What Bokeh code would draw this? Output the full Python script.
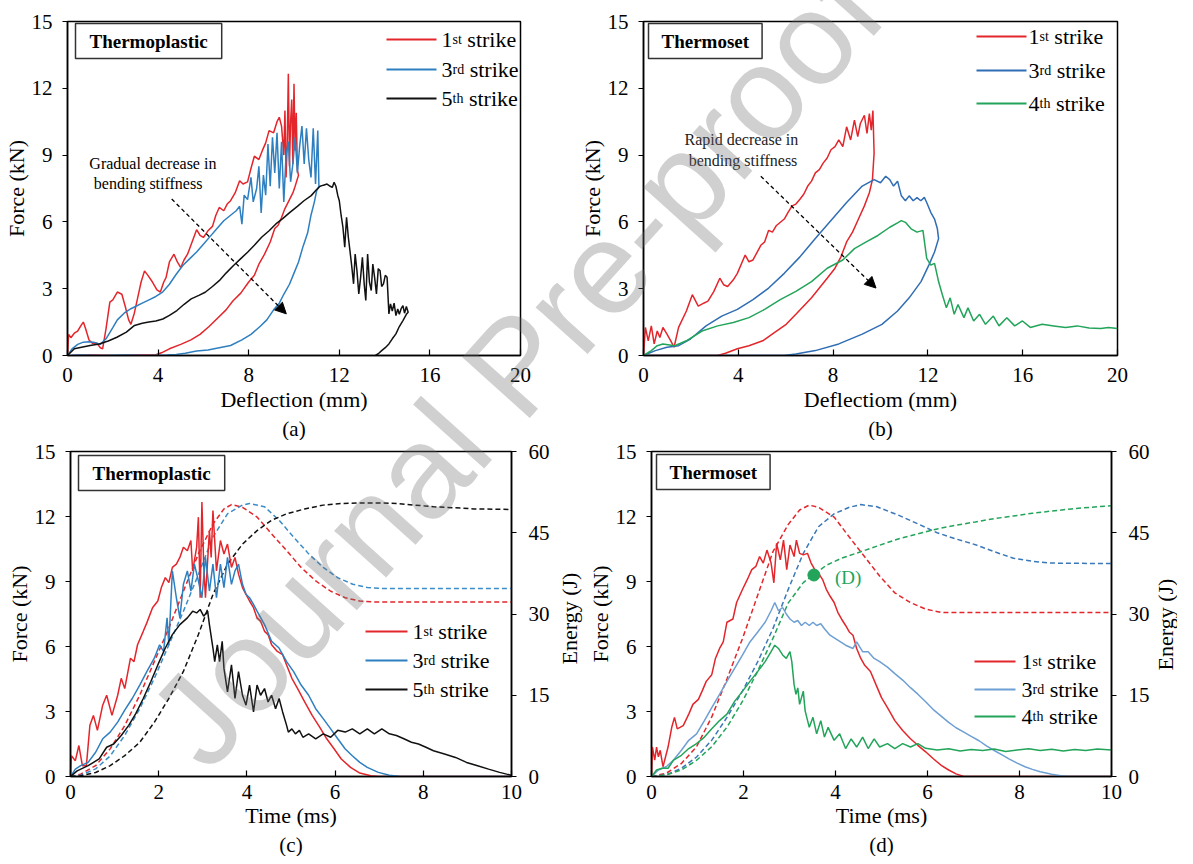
import math
from bokeh.plotting import figure
from bokeh.models import Range1d, FixedTicker, LinearAxis, Label, Arrow, NormalHead, Title, Div
from bokeh.layouts import column, row
from bokeh.embed import file_html
from bokeh.resources import INLINE

# ---------------------------------------------------------------- data
# (a) Thermoplastic, force vs deflection
a_red_d = [0, 0.05, 0.15, 0.3, 0.45, 0.6, 0.7, 0.8, 0.95, 1.1, 1.3, 1.45, 1.55, 1.7, 1.87, 2.0, 2.2, 2.4, 2.55, 2.7,
           2.8, 2.95, 3.1, 3.25, 3.4, 3.55, 3.75, 3.95, 4.1, 4.25, 4.35, 4.5, 4.7, 4.85, 5.0, 5.15, 5.3, 5.5, 5.7, 5.85,
           6.0, 6.2, 6.4, 6.55, 6.7, 6.9, 7.05, 7.2, 7.4, 7.6, 7.75, 7.95, 8.1, 8.25, 8.45, 8.6, 8.75, 8.9, 9.1, 9.25,
           9.35, 9.45, 9.55, 9.6, 9.65, 9.7, 9.75, 9.8, 9.85, 9.9, 9.95, 10.0, 10.05, 10.1, 10.15, 10.2,
           10.05, 9.95, 9.8, 9.6, 9.45, 9.3, 9.15, 8.95, 8.7, 8.45, 8.25, 8.0, 7.65, 7.3, 7.0, 6.6, 6.25, 5.85, 5.45,
           5.0, 4.5, 4.15, 3.9, 3.0, 2.0, 1.0, 0.2]
a_red_f = [0, 0.95, 0.8, 1.0, 1.1, 1.35, 1.5, 1.2, 0.7, 0.55, 0.55, 0.35, 0.3, 1.2, 2.4, 2.5, 2.85, 2.75, 2.2, 1.6,
           1.4, 1.9, 2.6, 3.3, 3.8, 3.6, 3.3, 2.95, 2.85, 3.3, 3.5, 4.2, 4.55, 4.2, 3.95, 4.3, 4.55, 5.1, 5.65, 5.4,
           5.3, 5.6, 5.8, 6.3, 6.65, 6.5, 6.8, 6.95, 7.3, 7.85, 7.7, 7.8, 8.4, 8.95, 8.8, 9.2, 9.55, 10.1, 10.0, 10.5,
           10.7, 10.3, 9.0, 11.0, 8.0, 9.5, 12.65, 8.5, 10.5, 11.5, 8.6, 12.2, 9.2, 10.9, 8.3, 8.1,
           7.6, 7.3, 7.0, 6.6, 6.2, 5.85, 5.7, 5.1, 4.55, 4.1, 3.6, 3.3, 2.8, 2.45, 2.05, 1.65, 1.3, 0.95, 0.7,
           0.5, 0.3, 0.12, 0.03, 0.02, 0.0, 0.02, 0.0]
a_blue_d = [0, 0.2, 0.45, 0.7, 0.95, 1.2, 1.45, 1.7, 2.0, 2.2, 2.5, 2.8, 3.0, 3.3, 3.6, 3.9, 4.2, 4.5, 4.8, 5.1,
            5.4, 5.7, 6.0, 6.3, 6.6, 6.9, 7.2, 7.45, 7.6, 7.7, 7.8, 7.95, 8.1, 8.2, 8.35, 8.45, 8.55, 8.65, 8.75, 8.85,
            8.95, 9.05, 9.15, 9.25, 9.35, 9.45, 9.55, 9.65, 9.75, 9.85, 9.95, 10.05, 10.15, 10.25, 10.35, 10.45, 10.55,
            10.65, 10.75, 10.85, 10.95, 11.05, 11.1,
            11.0, 10.9, 10.75, 10.6, 10.4, 10.2, 10.0, 9.8, 9.55, 9.35, 9.1, 8.8, 8.5, 8.1, 7.7, 7.2, 6.7, 6.2, 5.7,
            5.2, 4.8, 4.4, 3.5, 2.5, 1.5, 0.5, 0.1]
a_blue_f = [0, 0.3, 0.5, 0.6, 0.62, 0.58, 0.5, 0.75, 1.25, 1.6, 1.9, 2.1, 2.2, 2.35, 2.5, 2.65, 2.85, 3.2, 3.65, 4.05,
            4.35, 4.65, 5.0, 5.35, 5.7, 6.05, 6.3, 6.5, 6.7, 5.9, 7.2, 7.0, 8.0, 6.9, 7.5, 8.5, 6.4, 8.1, 7.2, 9.5,
            7.6, 9.8, 8.2, 10.0, 7.5, 9.6, 6.9, 9.0, 9.6, 7.8, 8.6, 9.8, 8.2, 9.4, 10.3, 8.6, 10.2,
            8.8, 8.0, 10.2, 7.7, 10.1, 7.6,
            7.4, 6.9, 6.3, 5.5, 4.9, 4.2, 3.7, 3.2, 2.75, 2.35, 2.05, 1.6, 1.3, 0.95, 0.7, 0.45, 0.35, 0.25, 0.2,
            0.1, 0.05, 0.02, 0.0, 0.02, 0.0, 0.02, 0.0]
a_black_d = [0, 0.3, 0.62, 1.0, 1.4, 1.8, 2.18, 2.6, 2.96, 3.3, 3.59, 3.9, 4.21, 4.5, 4.83, 5.15, 5.46, 5.8, 6.08, 6.4,
             6.7, 7.0, 7.33, 7.65, 7.95, 8.25, 8.57, 8.9, 9.2, 9.5, 9.82, 10.15, 10.44, 10.76, 11.0, 11.15, 11.3, 11.46,
             11.6, 11.69, 11.77, 11.85, 11.93, 12.0, 12.08, 12.16, 12.24, 12.32, 12.4, 12.47, 12.55, 12.63, 12.7, 12.78,
             12.86, 12.94, 13.02, 13.1, 13.17, 13.25, 13.33, 13.41, 13.48, 13.56, 13.64, 13.72, 13.8, 13.87, 13.95,
             14.03, 14.11, 14.19, 14.26, 14.34, 14.42, 14.5, 14.58, 14.65, 14.73, 14.81, 14.88, 14.96, 15.04,
             14.96, 14.81, 14.65, 14.5, 14.34, 14.19, 14.03, 13.87, 13.72, 13.6]
a_black_f = [0, 0.3, 0.37, 0.45, 0.52, 0.65, 0.82, 1.05, 1.35, 1.45, 1.5, 1.55, 1.64, 1.8, 2.02, 2.3, 2.54, 2.7, 2.84,
             3.1, 3.36, 3.7, 4.04, 4.35, 4.64, 4.95, 5.31, 5.6, 5.91, 6.15, 6.43, 6.7, 6.95, 7.18, 7.45, 7.6, 7.65, 7.7,
             7.6, 7.55, 7.78, 7.6, 7.2, 6.95, 6.3, 5.76, 4.86, 6.21, 5.3, 4.71, 4.0, 3.22, 4.56, 3.8, 2.77, 3.5, 4.41,
             3.2, 2.47, 4.56, 3.3, 2.92, 4.11, 3.5, 2.77, 3.9, 3.81, 3.1, 3.22, 3.6, 3.51, 1.87, 2.32, 2.0, 2.35, 1.79,
             2.09, 1.85, 2.1, 2.24, 1.9, 2.2, 1.94,
             1.85, 1.57, 1.3, 0.97, 0.75, 0.52, 0.35, 0.22, 0.08, 0.0]

# (b) Thermoset, force vs deflection
b_red_d = [0, 0.08, 0.2, 0.33, 0.45, 0.58, 0.69, 0.82, 0.99, 1.15, 1.29, 1.48, 1.81, 2.06, 2.31, 2.56, 2.72, 2.97,
           3.22, 3.38, 3.55, 3.79, 3.96, 4.29, 4.45, 4.62, 4.95, 5.11, 5.28, 5.44, 5.61, 5.94, 6.1, 6.27, 6.43, 6.6,
           6.76, 6.93, 7.09, 7.25, 7.42, 7.58, 7.75, 7.91, 8.08, 8.24, 8.41, 8.57, 8.74, 8.9, 9.04, 9.15, 9.32, 9.43,
           9.53, 9.61, 9.68, 9.73,
           9.66, 9.53, 9.32, 9.07, 8.82, 8.57, 8.33, 8.08, 7.75, 7.42, 7.09, 6.76, 6.43, 6.02, 5.52, 5.03, 4.45, 3.96,
           3.46, 3.13, 0.2]
b_red_f = [0, 1.26, 0.66, 1.33, 0.52, 1.1, 0.81, 1.26, 0.96, 0.66, 0.37, 1.26, 2.0, 2.73, 2.22, 2.36, 2.44, 2.88,
           3.47, 3.18, 3.1, 3.4, 3.69, 4.51, 4.21, 4.29, 4.95, 5.1, 5.62, 5.54, 5.84, 6.13, 6.43, 6.72, 6.8, 7.02,
           7.24, 7.61, 7.83, 8.2, 8.35, 8.64, 8.87, 9.24, 9.38, 9.68, 9.38, 10.27, 9.68, 10.57, 9.83, 10.42, 10.79,
           9.97, 10.86, 10.12, 11.0, 9.09,
           7.9, 7.31, 6.72, 6.13, 5.54, 5.1, 4.43, 3.92, 3.47, 3.03, 2.59, 2.22, 1.85, 1.4, 1.03, 0.66, 0.44, 0.3,
           0.1, 0.0, 0.0]
b_blue_d = [0, 0.5, 0.99, 1.48, 1.98, 2.64, 3.3, 3.96, 4.62, 5.28, 5.94, 6.6, 7.25, 7.91, 8.57, 9.23, 9.73, 10.0,
            10.22, 10.39, 10.55, 10.72, 10.88, 11.05, 11.21, 11.38, 11.54, 11.7, 11.85, 11.95, 12.12, 12.28, 12.4,
            12.45, 12.28, 12.04, 11.71, 11.21, 10.72, 10.06, 9.23, 8.24, 7.25, 6.43, 5.94, 3.0, 0.2]
b_blue_f = [0, 0.22, 0.37, 0.44, 0.74, 1.33, 1.77, 2.07, 2.51, 3.03, 3.69, 4.43, 5.25, 6.06, 6.87, 7.61, 7.9, 7.76,
            8.05, 7.9, 7.61, 7.83, 7.17, 6.95, 7.17, 6.95, 7.09, 6.95, 7.1, 6.87, 6.43, 6.13, 5.69,
            5.25, 4.65, 4.06, 3.32, 2.59, 2.0, 1.4, 0.96, 0.52, 0.22, 0.07, 0.0, 0.0, 0.0]
b_green_d = [0, 0.33, 0.58, 0.82, 1.32, 1.81, 2.47, 3.13, 3.79, 4.45, 5.11, 5.77, 6.43, 7.09, 7.75, 8.41, 8.9, 9.4,
             9.89, 10.39, 10.72, 10.88, 11.05, 11.29, 11.54, 11.79, 11.95, 12.12, 12.28, 12.45, 12.61, 12.78, 12.94,
             13.11, 13.27, 13.52, 13.69, 13.93, 14.18, 14.43, 14.76, 15.0, 15.33, 15.66, 15.99, 16.32, 16.82, 17.31,
             17.81, 18.3, 18.8, 19.29, 19.62, 20.0]
b_green_f = [0, 0.22, 0.44, 0.52, 0.44, 0.66, 1.1, 1.33, 1.48, 1.7, 2.07, 2.51, 2.88, 3.32, 3.92, 4.29, 4.8, 5.1,
             5.39, 5.76, 5.96, 6.06, 5.98, 5.69, 5.54, 5.62, 4.36, 4.06, 4.14, 3.32, 2.73, 2.14, 2.59,
             1.85, 2.29, 1.7, 2.14, 1.55, 1.85, 1.4, 1.77, 1.33, 1.7, 1.33, 1.55, 1.26, 1.4, 1.33,
             1.26, 1.33, 1.23, 1.21, 1.26, 1.21]

# (c) Thermoplastic, force and energy vs time
c_red_t = [0, 0.02, 0.11, 0.19, 0.27, 0.36, 0.44, 0.52, 0.61, 0.73, 0.82, 0.94, 1.07, 1.15, 1.23, 1.36, 1.44, 1.52,
           1.65, 1.73, 1.86, 1.98, 2.06, 2.15, 2.23, 2.31, 2.4, 2.48, 2.56, 2.65, 2.73, 2.77, 2.86, 2.9, 2.94, 2.98,
           3.02, 3.06, 3.15, 3.19, 3.23, 3.27, 3.31, 3.4, 3.48, 3.56, 3.65, 3.73, 3.81, 3.9, 3.98, 4.06, 4.15, 4.23,
           4.31, 4.4, 4.48, 4.56, 4.69, 4.81, 4.9, 5.02, 5.15, 5.31, 5.48, 5.65, 5.81, 5.98, 6.14, 6.35, 6.56, 6.81,
           6.98, 10]
c_red_f = [0, 0.96, 0.73, 1.43, 0.5, 0.5, 2.36, 2.82, 2.13, 3.29, 3.75, 2.82, 3.75, 4.53, 4.06, 5.46, 5.3, 6.08,
           6.7, 7.09, 7.79, 8.1, 8.72, 9.18, 8.95, 9.65, 9.8, 10.11, 10.58, 10.42, 10.89, 9.49, 10.58, 11.97, 8.25,
           12.67, 9.8, 8.25, 11.35, 10.11, 12.28, 10.89, 9.49, 10.89, 10.27, 10.73, 9.65, 10.11, 9.34, 8.72, 8.41,
           8.1, 7.79, 7.32, 7.17, 6.7, 6.55, 6.08, 5.77, 5.62, 5.15, 4.53, 4.06, 3.44, 2.82, 2.28, 1.74, 1.27, 0.81,
           0.42, 0.16, 0.03, 0, 0]
c_blue_t = [0, 0.11, 0.23, 0.4, 0.57, 0.73, 0.9, 1.07, 1.23, 1.4, 1.57, 1.73, 1.9, 2.02, 2.11, 2.19, 2.23, 2.31, 2.4,
            2.48, 2.56, 2.65, 2.73, 2.81, 2.9, 2.98, 3.06, 3.15, 3.23, 3.31, 3.4, 3.48, 3.56, 3.65, 3.73, 3.81, 3.9,
            3.98, 4.06, 4.15, 4.23, 4.4, 4.56, 4.73, 4.9, 5.06, 5.23, 5.4, 5.56, 5.73, 5.9, 6.06, 6.23, 6.39, 6.56,
            6.73, 6.98, 7.23, 7.48, 10]
c_blue_f = [0, 0.34, 0.5, 0.65, 1.12, 1.74, 2.05, 2.51, 3.06, 3.6, 4.22, 4.84, 5.46, 6.08, 5.77, 7.32, 6.08, 9.49,
            8.25, 7.32, 8.87, 9.49, 8.56, 9.8, 9.03, 8.25, 10.11, 8.56, 9.8, 8.25, 9.8, 8.72, 10.11, 8.87, 9.49, 9.8,
            8.87, 8.41, 8.25, 7.94, 7.63, 7.01, 6.24, 5.93, 5.3, 4.84, 4.22, 3.75, 3.13, 2.67, 2.2, 1.74, 1.27, 0.96,
            0.65, 0.42, 0.19, 0.06, 0, 0]
c_black_t = [0, 0.15, 0.4, 0.65, 0.82, 0.98, 1.15, 1.32, 1.48, 1.65, 1.82, 1.98, 2.15, 2.31, 2.48, 2.65, 2.77, 2.86,
             2.94, 3.02, 3.11, 3.15, 3.23, 3.27, 3.33, 3.38, 3.44, 3.48, 3.56, 3.65, 3.73, 3.81, 3.9, 3.98, 4.06,
             4.15, 4.23, 4.31, 4.4, 4.48, 4.56, 4.65, 4.73, 4.81, 4.9, 4.94, 5.02, 5.1, 5.19, 5.27, 5.4, 5.56, 5.73,
             5.9, 6.06, 6.23, 6.39, 6.56, 6.73, 6.89, 7.06, 7.23, 7.39, 7.56, 7.73, 7.89, 8.06, 8.23, 8.48, 8.73,
             8.98, 9.23, 9.48, 9.73, 9.89, 10]
c_black_f = [0, 0.26, 0.5, 0.81, 1.35, 1.5, 1.89, 2.36, 2.9, 3.6, 4.37, 5.15, 5.93, 6.55, 7.01, 7.32, 7.63, 7.55,
             7.71, 7.4, 7.63, 7.01, 5.93, 5.3, 6.08, 5.3, 6.24, 4.99, 3.91, 5.15, 3.6, 4.84, 3.75, 3.29, 4.22, 2.98,
             4.22, 3.75, 4.06, 3.44, 3.75, 3.13, 3.6, 2.98, 2.36, 2.05, 2.2, 1.97, 2.13, 1.81, 1.97, 1.74, 1.97, 1.81,
             2.13, 2.05, 2.2, 1.97, 2.2, 1.97, 2.2, 1.97, 1.89, 1.74, 1.58, 1.5, 1.35, 1.19, 1.04, 0.88, 0.65, 0.5,
             0.34, 0.19, 0.11, 0.06]
c_red_et = [0, 0.23, 0.57, 0.9, 1.23, 1.57, 1.9, 2.23, 2.56, 2.9, 3.23, 3.48, 3.65, 3.9, 4.23, 4.56, 4.9, 5.23, 5.56,
            5.9, 6.23, 6.56, 6.9, 10]
c_red_e = [0, 0.43, 2.0, 5.1, 9.4, 15.0, 21.2, 27.4, 34.2, 41.1, 46.6, 49.4, 50.2, 49.7, 47.9, 44.8, 41.7, 38.6,
           36.1, 34.2, 33.0, 32.4, 32.2, 32.2]
c_blue_et = [0, 0.23, 0.57, 0.9, 1.23, 1.57, 1.9, 2.23, 2.56, 2.9, 3.23, 3.56, 3.9, 4.06, 4.4, 4.73, 5.06, 5.4, 5.73,
             6.06, 6.4, 6.73, 7.06, 10]
c_blue_e = [0, 0.25, 1.4, 3.8, 7.6, 12.5, 18.1, 24.3, 30.5, 37.3, 44.2, 48.5, 50.1, 50.4, 49.8, 47.3, 44.2, 41.1,
            38.6, 36.7, 35.5, 34.9, 34.7, 34.7]
c_black_et = [0, 0.23, 0.57, 0.9, 1.23, 1.57, 1.9, 2.23, 2.56, 2.9, 3.23, 3.56, 3.9, 4.23, 4.56, 4.9, 5.31, 5.73,
              6.14, 6.56, 6.98, 7.39, 7.81, 8.23, 8.73, 9.15, 10]
c_black_e = [0, 0.12, 0.74, 2.0, 3.85, 6.3, 10.0, 14.4, 19.4, 26.2, 33.6, 39.2, 42.9, 45.4, 47.3, 48.5, 49.4, 50.1,
             50.4, 50.5, 50.5, 50.4, 50.1, 49.8, 49.6, 49.4, 49.3]

# (d) Thermoset, force and energy vs time
d_red_t = [0, 0.02, 0.07, 0.11, 0.15, 0.19, 0.25, 0.36, 0.44, 0.5, 0.56, 0.69, 0.81, 0.9, 1.02, 1.1, 1.19, 1.31, 1.39,
           1.48, 1.56, 1.64, 1.77, 1.85, 1.98, 2.1, 2.18, 2.27, 2.35, 2.43, 2.51, 2.6, 2.66, 2.72, 2.8, 2.87, 2.94,
           3.01, 3.1, 3.15, 3.22, 3.3, 3.39, 3.47, 3.55, 3.63, 3.72, 3.8, 3.88, 3.97, 4.05, 4.13, 4.22, 4.3, 4.38,
           4.46, 4.55, 4.63, 4.76, 4.88, 5.0, 5.13, 5.29, 5.46, 5.63, 5.79, 5.96, 6.12, 6.29, 6.46, 6.62, 6.79, 10]
d_red_f = [0, 1.36, 0.76, 1.36, 0.91, 1.21, 0.45, 1.36, 2.27, 2.73, 2.2, 2.35, 2.88, 3.33, 3.56, 3.94, 4.39, 4.7,
           5.45, 5.91, 6.21, 7.12, 7.27, 8.03, 8.64, 9.17, 9.55, 9.7, 10.15, 9.85, 10.45, 9.85, 8.94, 10.76, 10.0,
           10.91, 9.55, 10.68, 10.15, 10.91, 10.3, 10.23, 10.3, 9.85, 9.55, 9.39, 9.09, 8.64, 8.33, 8.03, 7.58, 7.27,
           6.97, 6.67, 6.52, 5.91, 5.45, 5.15, 4.85, 4.24, 3.64, 3.18, 2.58, 2.12, 1.74, 1.44, 1.14, 0.83, 0.53, 0.3,
           0.12, 0, 0]
d_blue_t = [0, 0.15, 0.32, 0.48, 0.65, 0.81, 0.98, 1.15, 1.31, 1.48, 1.64, 1.81, 1.98, 2.14, 2.31, 2.47, 2.6, 2.68,
            2.76, 2.85, 2.93, 3.01, 3.1, 3.18, 3.26, 3.34, 3.43, 3.51, 3.59, 3.68, 3.76, 3.88, 4.05, 4.22, 4.38, 4.46,
            4.59, 4.71, 4.84, 4.96, 5.13, 5.29, 5.46, 5.63, 5.79, 5.96, 6.12, 6.29, 6.46, 6.62, 6.79, 6.95, 7.12,
            7.29, 7.45, 7.62, 7.78, 7.95, 8.12, 8.28, 8.45, 8.7, 8.9, 9.1, 10]
d_blue_f = [0, 0.3, 0.45, 0.76, 1.21, 1.67, 1.97, 2.58, 3.18, 3.79, 4.39, 5.0, 5.61, 6.21, 6.67, 7.12, 7.65, 8.03,
            7.65, 7.8, 7.5, 7.27, 7.12, 7.2, 6.97, 7.12, 6.97, 7.12, 6.97, 7.05, 6.82, 6.52, 6.29, 6.06, 5.91, 6.21,
            5.76, 5.76, 5.45, 5.3, 5.05, 4.75, 4.45, 4.1, 3.8, 3.45, 3.1, 2.8, 2.5, 2.25, 2.05, 1.85, 1.65, 1.4, 1.2,
            1.0, 0.8, 0.62, 0.45, 0.33, 0.22, 0.1, 0.04, 0, 0]
d_green_t = [0, 0.11, 0.23, 0.36, 0.48, 0.65, 0.81, 0.98, 1.15, 1.31, 1.48, 1.64, 1.81, 1.98, 2.14, 2.31, 2.47, 2.6,
             2.68, 2.76, 2.85, 2.93, 3.01, 3.05, 3.1, 3.14, 3.18, 3.22, 3.3, 3.34, 3.43, 3.51, 3.59, 3.68, 3.76,
             3.84, 3.97, 4.09, 4.22, 4.34, 4.46, 4.59, 4.71, 4.84, 4.96, 5.13, 5.29, 5.46, 5.63, 5.79, 5.96, 6.21,
             6.46, 6.71, 6.95, 7.2, 7.45, 7.7, 7.95, 8.2, 8.45, 8.7, 8.95, 9.2, 9.44, 9.69, 10]
d_green_f = [0, 0.3, 0.38, 0.38, 0.76, 0.98, 1.29, 1.52, 1.82, 2.2, 2.58, 2.88, 3.48, 3.94, 4.39, 4.85, 5.3, 5.76,
             6.06, 5.91, 5.61, 5.45, 5.76, 5.3, 4.24, 3.79, 4.09, 3.33, 3.94, 3.03, 2.27, 2.73, 1.97, 2.58, 1.82,
             2.27, 1.67, 1.97, 1.29, 1.74, 1.36, 1.82, 1.29, 1.74, 1.36, 1.52, 1.29, 1.52, 1.36, 1.52, 1.3, 1.22,
             1.28, 1.18, 1.25, 1.2, 1.27, 1.15, 1.22, 1.28, 1.2, 1.26, 1.18, 1.25, 1.2, 1.27, 1.22]
d_red_et = [0, 0.32, 0.65, 0.98, 1.31, 1.64, 1.98, 2.31, 2.64, 2.97, 3.22, 3.43, 3.63, 3.97, 4.3, 4.63, 4.96, 5.29,
            5.63, 5.96, 6.29, 10]
d_red_e = [0, 0.6, 2.4, 5.5, 11.0, 18.0, 25.5, 33.5, 41.5, 46.5, 49.2, 50.1, 49.7, 47.9, 44.2, 40.6, 37.0, 33.9,
           32.1, 30.9, 30.3, 30.3]
d_blue_et = [0, 0.32, 0.65, 0.98, 1.31, 1.64, 1.98, 2.31, 2.64, 2.97, 3.3, 3.63, 3.97, 4.3, 4.55, 4.9, 5.38, 5.8,
             6.21, 6.6, 7.04, 7.45, 7.87, 8.3, 8.7, 10]
d_blue_e = [0, 0.3, 1.5, 3.6, 6.7, 10.9, 15.8, 21.2, 27.3, 34.5, 41.2, 46.1, 48.5, 49.7, 50.2, 49.8, 48.2, 46.6,
            45.0, 43.9, 42.8, 41.5, 40.3, 39.7, 39.4, 39.3]
d_green_et = [0, 0.32, 0.65, 0.98, 1.31, 1.64, 1.98, 2.31, 2.64, 2.97, 3.3, 3.55, 3.8, 4.13, 4.55, 4.96, 5.38, 5.79,
              6.21, 6.62, 7.04, 7.45, 7.87, 8.28, 8.7, 9.13, 9.54, 10]
d_green_e = [0, 0.3, 1.2, 3.0, 5.5, 9.1, 13.9, 19.5, 25.5, 32.0, 35.8, 37.4, 39.0, 40.3, 41.5, 42.7, 43.9, 44.8,
             45.7, 46.4, 47.0, 47.6, 48.1, 48.6, 49.0, 49.4, 49.7, 50.0]
d_marker_t = [3.53]
d_marker_e = [37.2]
d_marker_label = "(D)"

# ticks and texts
defl_ticks = [0, 4, 8, 12, 16, 20]
time_ticks = [0, 2, 4, 6, 8, 10]
force_ticks = [0, 3, 6, 9, 12, 15]
energy_ticks = [0, 15, 30, 45, 60]
tp_legend = [("1", "st"), ("3", "rd"), ("5", "th")]
ts_legend = [("1", "st"), ("3", "rd"), ("4", "th")]
a_note = ["Gradual decrease in", "bending stiffness"]
b_note = ["Rapid decrease in", "bending stiffness"]
a_arrow = [4.6, 7.03, 9.66, 1.87]
b_arrow = [4.95, 8.05, 9.81, 3.03]
a_note_pos = [(3.77, 8.64), (3.56, 7.73)]
b_note_pos = [(4.13, 9.68), (4.2, 8.75)]
d_label_pos = (3.99, 9.17)
watermark = "Journal Pre-proof"

# ---------------------------------------------------------------- style
SERIF = "Liberation Serif"
SANS = "Liberation Sans"
RED = "#E3262B"
BLUE = "#2E7FC0"
BLUE_B = "#2F6DB4"
BLUE_D = "#6E9FD3"
BLUE_DASH_D = "#3B78B8"
GREEN = "#22A45A"
BLACK = "#111111"
SUPW = {"st": 0.667, "rd": 0.833, "th": 0.778}

# frame geometry in page pixels (rows align their plots' top/bottom borders)
ROW1_TOP, ROW1_BOTTOM = 21, 355
ROW2_TOP, ROW2_BOTTOM = 451, 776
ROW2_PAGE_BOTTOM = 856


def style_axis(ax, label, ticks, tick_in, tick_out, lab_std, axl_std):
    ax.ticker = FixedTicker(ticks=ticks)
    ax.axis_label = label
    ax.axis_label_text_font = SERIF
    ax.axis_label_text_font_size = "22px"
    ax.axis_label_text_font_style = "normal"
    ax.axis_label_text_color = "black"
    ax.axis_label_standoff = axl_std
    ax.major_label_text_font = SERIF
    ax.major_label_text_font_size = "21px"
    ax.major_label_text_color = "black"
    ax.major_label_standoff = lab_std
    ax.major_tick_in = tick_in
    ax.major_tick_out = tick_out
    ax.major_tick_line_color = "black"
    ax.major_tick_line_width = 1.2
    ax.minor_tick_line_color = None
    ax.axis_line_color = "black"
    ax.axis_line_width = 1.5


def make_fig(w, h, bl, br, bt, bb, x_end, xticks, xlabel, x_std, xl_std, caption):
    p = figure(width=w, height=h, x_range=Range1d(0, x_end), y_range=Range1d(0, 15),
               output_backend="svg", toolbar_location=None,
               min_border_left=bl, min_border_right=br, min_border_top=bt, min_border_bottom=bb)
    p.background_fill_color = "white"
    p.border_fill_color = "white"
    p.outline_line_color = "black"
    p.outline_line_width = 1.5
    p.grid.visible = False
    style_axis(p.xaxis[0], xlabel, xticks, 6, 0, x_std, xl_std)
    style_axis(p.yaxis[0], "Force (kN)", force_ticks, 0, 5, 10, 0)
    cap = Title(text=caption, align="center", text_font=SERIF, text_font_size="21px",
                text_font_style="normal", text_color="black")
    if "standoff" in cap.properties():
        cap.standoff = 0
    p.add_layout(cap, "below")
    return p


def add_energy_axis(p):
    p.extra_y_ranges = {"energy": Range1d(0, 60)}
    ax = LinearAxis(y_range_name="energy")
    style_axis(ax, None, energy_ticks, 0, 5, 12, 0)
    p.add_layout(ax, "right")


def slabel(p, text, x, y, size, color="black", align="left", baseline="middle", style="normal",
           font=SERIF, angle=0, alpha=1.0):
    p.add_layout(Label(x=x, y=y, x_units="screen", y_units="screen", text=text, text_font=font,
                       text_font_size=f"{size}px", text_color=color, text_align=align,
                       text_baseline=baseline, text_font_style=style, angle=angle, angle_units="deg",
                       text_alpha=alpha))


def add_legend(p, fl, fb, entries, colors, x0, x1, tx, ys):
    for (num, sup), color, y in zip(entries, colors, ys):
        sy = fb - y
        p.add_layout(Arrow(x_start=x0 - fl, y_start=sy, x_end=x1 - fl, y_end=sy, start_units="screen",
                           end_units="screen", end=None, line_color=color, line_width=2.2))
        x = tx - fl
        slabel(p, num, x, sy, 22)
        slabel(p, sup, x + 11, sy + 0.5, 14, baseline="alphabetic")
        slabel(p, "strike", x + 11 + SUPW[sup] * 14 + 5.5, sy, 22)


def add_box(p, fl, fb, text, bx, by, hpad):
    p.add_layout(Label(x=bx - fl, y=fb - by, x_units="screen", y_units="screen", text=text,
                       text_font=SERIF, text_font_size="19px", text_font_style="bold", text_color="black",
                       text_align="left", text_baseline="top",
                       padding=dict(left=hpad, right=hpad, top=7, bottom=7),
                       border_line_color="#333333", border_line_width=1.5, background_fill_color="white"))


def energy_label_strip(w, h, x, y_page_start):
    # narrow canvas that carries the right-hand axis title, reading bottom to top
    s = figure(width=w, height=h, x_range=Range1d(0, 1), y_range=Range1d(0, 1), output_backend="svg",
               toolbar_location=None, x_axis_type=None, y_axis_type=None,
               min_border_left=0, min_border_right=0,
               min_border_top=ROW2_TOP - 440, min_border_bottom=ROW2_PAGE_BOTTOM - ROW2_BOTTOM)
    s.outline_line_color = None
    s.background_fill_color = "white"
    s.border_fill_color = "white"
    slabel(s, "Energy (J)", x, ROW2_BOTTOM - y_page_start, 22, align="left", angle=90)
    return s


# ---------------------------------------------------------------- (a)
pa = make_fig(572, 440, 60, 52, 21, 85, 20, defl_ticks, "Deflection (mm)", 12, 2, "(a)")
pa.line(a_red_d, a_red_f, line_color=RED, line_width=1.5)
pa.line(a_blue_d, a_blue_f, line_color=BLUE, line_width=1.5)
pa.line(a_black_d, a_black_f, line_color=BLACK, line_width=1.5)
pa.add_layout(Arrow(x_start=a_arrow[0], y_start=a_arrow[1], x_end=a_arrow[2], y_end=a_arrow[3],
                    line_dash="4 3", line_width=1.3, line_color="black",
                    end=NormalHead(size=11, fill_color="black", line_color="black")))
for txt, (x, y) in zip(a_note, a_note_pos):
    pa.add_layout(Label(x=x, y=y, text=txt, text_font=SERIF, text_font_size="16px", text_align="center",
                        text_baseline="middle", text_color="black"))
add_box(pa, 68, ROW1_BOTTOM, "Thermoplastic", 76, 23, 14)
add_legend(pa, 68, ROW1_BOTTOM, tp_legend, [RED, BLUE, BLACK], 387, 437, 442, [39, 69, 98])

# ---------------------------------------------------------------- (b)
pb = make_fig(605, 440, 71, 60, 21, 85, 20, defl_ticks, "Deflectiom (mm)", 12, 2, "(b)")
pb.line(b_red_d, b_red_f, line_color=RED, line_width=1.5)
pb.line(b_blue_d, b_blue_f, line_color=BLUE_B, line_width=1.5)
pb.line(b_green_d, b_green_f, line_color=GREEN, line_width=1.5)
pb.add_layout(Arrow(x_start=b_arrow[0], y_start=b_arrow[1], x_end=b_arrow[2], y_end=b_arrow[3],
                    line_dash="4 3", line_width=1.3, line_color="black",
                    end=NormalHead(size=11, fill_color="black", line_color="black")))
for txt, (x, y) in zip(b_note, b_note_pos):
    pb.add_layout(Label(x=x, y=y, text=txt, text_font=SERIF, text_font_size="16px", text_align="center",
                        text_baseline="middle", text_color="#222222"))
add_box(pb, 651, ROW1_BOTTOM, "Thermoset", 656, 23, 13)
add_legend(pb, 651, ROW1_BOTTOM, ts_legend, [RED, BLUE_B, GREEN], 984, 1034, 1036, [36, 70, 103])

# ---------------------------------------------------------------- (c)
pc = make_fig(552, 416, 70, 38, ROW2_TOP - 440, ROW2_PAGE_BOTTOM - ROW2_BOTTOM, 10, time_ticks,
              "Time (ms)", 8, 1, "(c)")
add_energy_axis(pc)
pc.line(c_red_et, c_red_e, y_range_name="energy", line_color=RED, line_width=1.5, line_dash="5 3")
pc.line(c_blue_et, c_blue_e, y_range_name="energy", line_color="#3C8CC8", line_width=1.5, line_dash="5 3")
pc.line(c_black_et, c_black_e, y_range_name="energy", line_color=BLACK, line_width=1.5, line_dash="5 3")
pc.line(c_red_t, c_red_f, line_color=RED, line_width=1.5)
pc.line(c_blue_t, c_blue_f, line_color=BLUE, line_width=1.5)
pc.line(c_black_t, c_black_f, line_color=BLACK, line_width=1.5)
add_box(pc, 78, ROW2_BOTTOM, "Thermoplastic", 86, 455, 14)
add_legend(pc, 78, ROW2_BOTTOM, tp_legend, [RED, BLUE, BLACK], 373, 415, 420, [631, 660, 689])
ec = energy_label_strip(32, 416, 17, 664)

# ---------------------------------------------------------------- (d)
pd = make_fig(568, 416, 66, 38, ROW2_TOP - 440, ROW2_PAGE_BOTTOM - ROW2_BOTTOM, 10, time_ticks,
              "Time (ms)", 8, 1, "(d)")
add_energy_axis(pd)
pd.line(d_red_et, d_red_e, y_range_name="energy", line_color=RED, line_width=1.5, line_dash="5 3")
pd.line(d_blue_et, d_blue_e, y_range_name="energy", line_color=BLUE_DASH_D, line_width=1.5, line_dash="5 3")
pd.line(d_green_et, d_green_e, y_range_name="energy", line_color=GREEN, line_width=1.5, line_dash="5 3")
pd.line(d_red_t, d_red_f, line_color=RED, line_width=1.5)
pd.line(d_blue_t, d_blue_f, line_color=BLUE_D, line_width=1.5)
pd.line(d_green_t, d_green_f, line_color=GREEN, line_width=1.5)
pd.scatter(d_marker_t, d_marker_e, y_range_name="energy", size=12, fill_color=GREEN, line_color=GREEN)
pd.add_layout(Label(x=d_label_pos[0], y=d_label_pos[1], text=d_marker_label, text_font=SERIF,
                    text_font_size="19px", text_align="left", text_baseline="middle", text_color=GREEN))
add_box(pd, 658, ROW2_BOTTOM, "Thermoset", 663, 454, 13)
add_legend(pd, 658, ROW2_BOTTOM, ts_legend, [RED, BLUE_D, GREEN], 981, 1022, 1028, [661, 689, 716])
ed = energy_label_strip(25, 416, 12.5, 670)

# ---------------------------------------------------------------- watermark overlay
wm = Div(text=('<span style="font-family: \'Liberation Sans\', Arial, sans-serif; font-size: 132px; '
               'color: rgba(110,110,110,0.32); white-space: nowrap; line-height: 150px;">'
               + watermark + '</span>'),
         width=1020, height=150,
         styles={"position": "absolute", "left": "1px", "top": "286px", "transform": "rotate(-48deg)",
                 "pointer-events": "none", "z-index": "10", "text-align": "center", "overflow": "visible"})

layout = column(row(pa, pb), row(pc, ec, pd, ed), wm)
open("out.html", "w").write(file_html(layout, INLINE, title="Force and energy curves"))
